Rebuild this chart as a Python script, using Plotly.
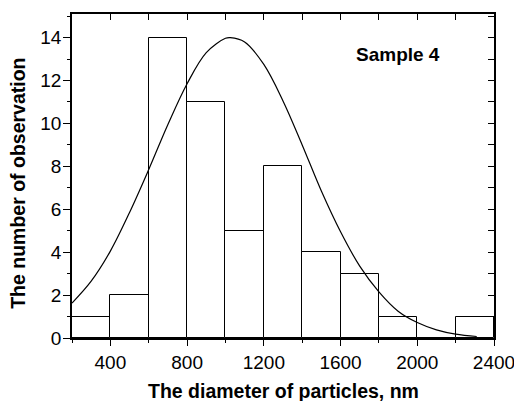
import plotly.graph_objects as go

# Histogram bins (left edges, nm) and counts
bin_left = [200, 400, 600, 800, 1000, 1200, 1400, 1600, 1800, 2000, 2200]
bin_width = 200
counts = [1, 2, 14, 11, 5, 8, 4, 3, 1, 0, 1]

# Fitted curve
curve_x = [200, 300, 400, 500, 600, 700, 800, 900, 1000, 1025, 1100, 1200, 1300,
           1400, 1500, 1600, 1700, 1800, 1900, 2000, 2100, 2200, 2310]
curve_y = [1.63, 2.65, 4.05, 5.85, 7.85, 9.95, 11.85, 13.3, 13.97, 14.0, 13.8, 12.75,
           11.05, 9.0, 6.85, 4.95, 3.35, 2.15, 1.25, 0.72, 0.38, 0.18, 0.07]

x_range = [200, 2400]
y_range = [0, 15.1]

FONT = "Liberation Sans, Arial, sans-serif"
centers = [b + bin_width / 2 for b in bin_left]

fig = go.Figure()
fig.add_trace(go.Bar(
    x=centers, y=counts, width=bin_width,
    marker=dict(color="white", line=dict(color="black", width=1)),
    hoverinfo="skip", showlegend=False,
))
fig.add_trace(go.Scatter(
    x=curve_x, y=curve_y, mode="lines",
    line=dict(color="black", width=1.2, shape="spline"),
    showlegend=False, hoverinfo="skip",
))
# invisible trace to activate mirror axes
fig.add_trace(go.Scatter(
    x=[centers[0]], y=[counts[0]], xaxis="x2", yaxis="y2", mode="markers",
    marker=dict(opacity=0), showlegend=False, hoverinfo="skip",
))

tickfont = dict(family=FONT, size=19, color="black")
titlefont = dict(family=FONT, size=19.5, color="black")

fig.update_layout(
    width=514, height=393,
    margin=dict(l=64, r=28, t=6, b=63),
    paper_bgcolor="white", plot_bgcolor="white",
    bargap=0,
    xaxis=dict(
        range=x_range, tick0=400, dtick=400, ticks="outside", ticklen=6,
        tickwidth=1.2, tickcolor="black", showline=True, linecolor="black",
        linewidth=1.5, showgrid=False, zeroline=False, tickfont=tickfont,
        minor=dict(tick0=200, dtick=200, ticks="outside", ticklen=3,
                   tickwidth=1.2, tickcolor="black", showgrid=False),
    ),
    yaxis=dict(
        range=y_range, tick0=0, dtick=2, ticks="outside", ticklen=7,
        tickwidth=1.2, tickcolor="black", showline=True, linecolor="black",
        linewidth=1.5, showgrid=False, zeroline=False, tickfont=tickfont,
        ticklabelstandoff=-2,
        minor=dict(tick0=0, dtick=1, ticks="outside", ticklen=3,
                   tickwidth=1.2, tickcolor="black", showgrid=False),
    ),
    xaxis2=dict(
        range=x_range, overlaying="x", side="top", anchor="y",
        tick0=200, dtick=200, ticks="inside", ticklen=6, tickwidth=1.2,
        tickcolor="black", showline=True, linecolor="black", linewidth=1.5,
        showticklabels=False, showgrid=False, zeroline=False,
    ),
    yaxis2=dict(
        range=y_range, overlaying="y", side="right", anchor="x",
        tick0=0, dtick=1, ticks="inside", ticklen=6, tickwidth=1.2,
        tickcolor="black", showline=True, linecolor="black", linewidth=1.5,
        showticklabels=False, showgrid=False, zeroline=False,
    ),
    annotations=[
        dict(text="<b>The diameter of particles, nm</b>", xref="paper", yref="paper",
             x=0.502, y=-0.163, xanchor="center", yanchor="middle", showarrow=False,
             font=titlefont),
        dict(text="<b>The number of observation</b>", xref="paper", yref="paper",
             x=-0.127, y=0.477, xanchor="center", yanchor="middle", showarrow=False,
             textangle=-90, font=titlefont),
        dict(text="<b>Sample 4</b>", xref="x", yref="y", x=1899, y=13.2,
             xanchor="center", yanchor="middle", showarrow=False,
             font=dict(family=FONT, size=19, color="black")),
    ],
)

fig.write_html("out.html")
